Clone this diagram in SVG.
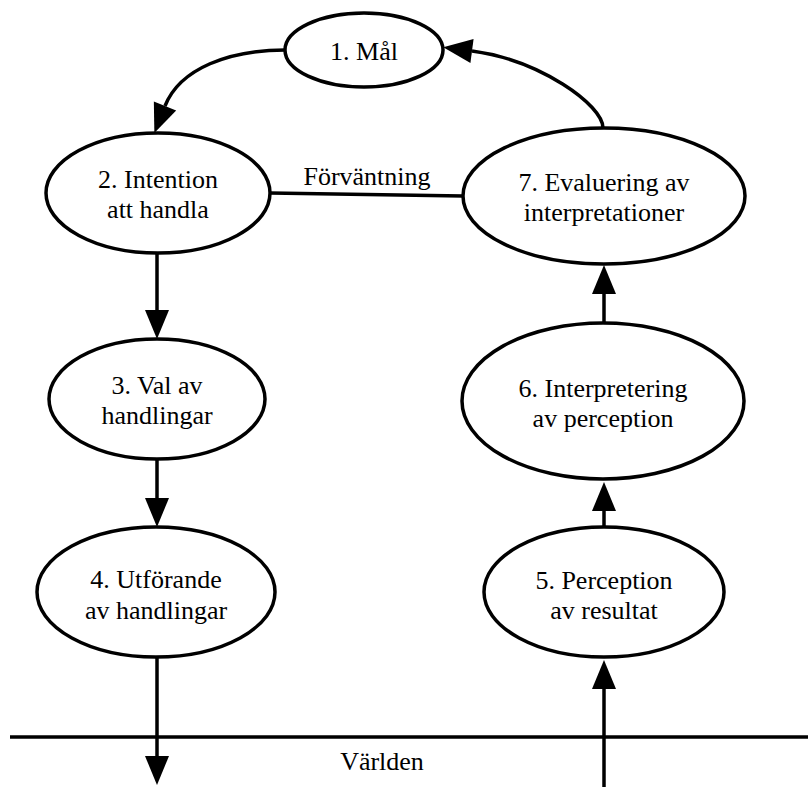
<svg xmlns="http://www.w3.org/2000/svg" width="808" height="787" viewBox="0 0 808 787" font-family="'Liberation Serif', 'Times New Roman', Times, serif">
  <style>
    text { font-family: 'Liberation Serif', 'Times New Roman', Times, serif; font-size: 26px; fill: #000000; text-anchor: middle; }
    .node ellipse { fill: #ffffff; stroke: #000000; stroke-width: 3.5; }
    .edge { fill: none; stroke: #000000; stroke-width: 3.5; }
    .arrow { marker-end: url(#head); }
  </style>
  <defs>
    <marker id="head" markerUnits="userSpaceOnUse" markerWidth="30" markerHeight="26" refX="0" refY="0" viewBox="0 -13 30 26" orient="auto" overflow="visible">
      <path d="M0,-12 L29,0 L0,12 Z" fill="#000000"/>
    </marker>
  </defs>
  <rect width="808" height="787" fill="#ffffff"/>

  <!-- connectors -->
  <g id="edges">
    <!-- 1 -> 2 -->
    <path class="edge arrow" d="M285,50 C230,50 180,68 165,106"/>
    <!-- 2 -> 3 -->
    <path class="edge arrow" d="M157,253 L157,310"/>
    <!-- 3 -> 4 -->
    <path class="edge arrow" d="M157,459 L157,498"/>
    <!-- 4 -> world -->
    <path class="edge arrow" d="M157,657 L157,756"/>
    <!-- world -> 5 -->
    <path class="edge arrow" d="M604,787 L604,689"/>
    <!-- 5 -> 6 -->
    <path class="edge arrow" d="M604,528 L604,511"/>
    <!-- 6 -> 7 -->
    <path class="edge arrow" d="M604,323 L604,294"/>
    <!-- 7 -> 1 -->
    <path class="edge arrow" d="M603,128 C603,105 540,60 472,51"/>
    <!-- expectation link between 2 and 7 -->
    <path class="edge" d="M270,193 L463,196"/>
    <text x="367" y="185" font-family="Liberation Serif">Förväntning</text>
    <!-- boundary to the world -->
    <path class="edge" d="M10,737 L808,737"/>
    <text x="382" y="770" font-family="Liberation Serif">Världen</text>
  </g>

  <g id="n1" class="node" font-family="Liberation Serif">
    <ellipse cx="364" cy="50" rx="79" ry="37"/>
    <text x="364" y="60">1. Mål</text>
  </g>
  <g id="n2" class="node">
    <ellipse cx="158" cy="193" rx="112" ry="60"/>
    <text x="158" y="188">2. Intention</text>
    <text x="158" y="218">att handla</text>
  </g>
  <g id="n3" class="node">
    <ellipse cx="157" cy="399" rx="108" ry="60"/>
    <text x="157" y="394">3. Val av</text>
    <text x="157" y="424">handlingar</text>
  </g>
  <g id="n4" class="node">
    <ellipse cx="156" cy="592" rx="119" ry="65"/>
    <text x="156" y="588">4. Utförande</text>
    <text x="156" y="619">av handlingar</text>
  </g>
  <g id="n5" class="node">
    <ellipse cx="604" cy="592" rx="120" ry="65"/>
    <text x="604" y="589">5. Perception</text>
    <text x="604" y="619">av resultat</text>
  </g>
  <g id="n6" class="node">
    <ellipse cx="603" cy="401" rx="141" ry="78"/>
    <text x="603" y="397">6. Interpretering</text>
    <text x="603" y="427">av perception</text>
  </g>
  <g id="n7" class="node">
    <ellipse cx="604" cy="196" rx="141" ry="68"/>
    <text x="604" y="191">7. Evaluering av</text>
    <text x="604" y="221">interpretationer</text>
  </g>
</svg>
